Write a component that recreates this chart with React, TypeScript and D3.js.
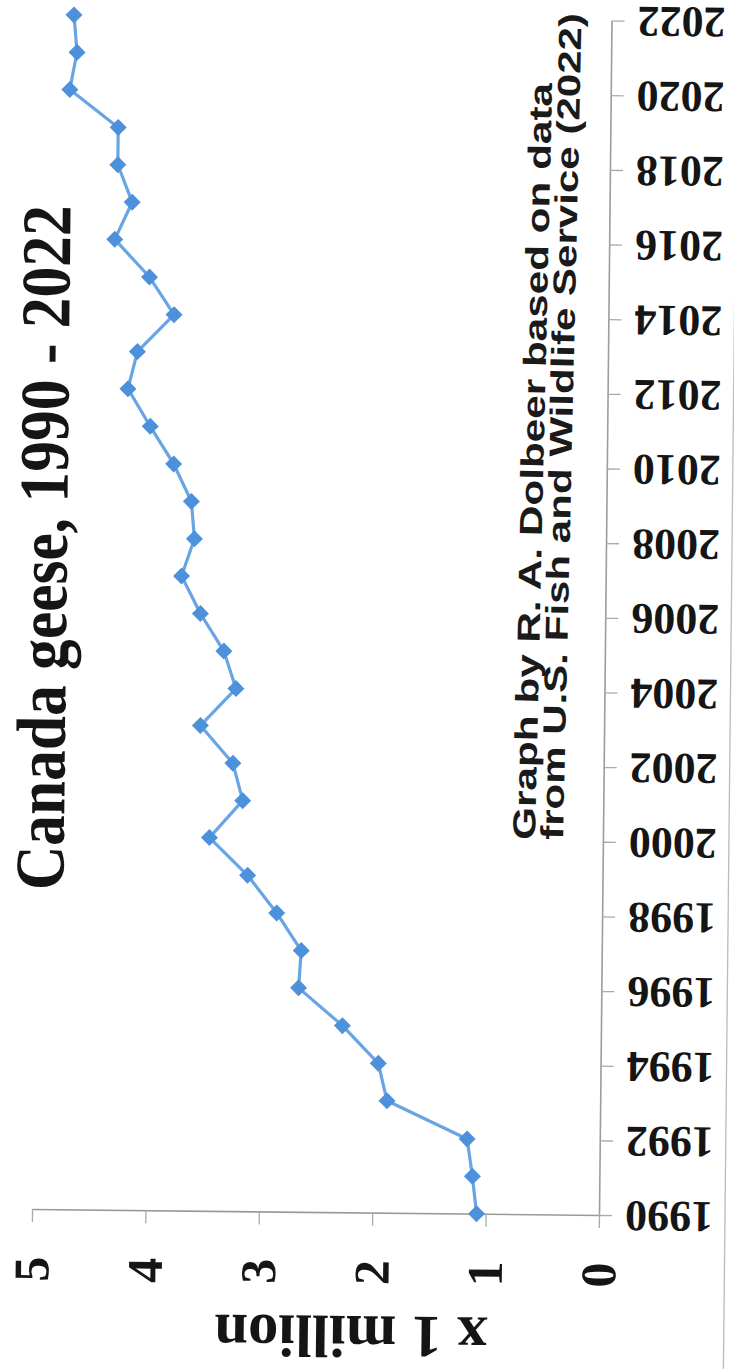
import * as d3 from 'd3'
import { useEffect, useRef } from 'react'

// Canada geese population (millions), 1990 - 2022
const years: number[] = d3.range(1990, 2023)
const geese: number[] = [
  1.08, 1.12, 1.17, 1.88, 1.96, 2.28, 2.67, 2.65, 2.87, 3.13,
  3.47, 3.18, 3.27, 3.56, 3.25, 3.36, 3.57, 3.74, 3.63, 3.66,
  3.82, 4.03, 4.23, 4.15, 3.83, 4.05, 4.36, 4.21, 4.34, 4.34,
  4.77, 4.71, 4.74,
]
const yearTicks: number[] = d3.range(1990, 2023, 2)
const valueTicks: number[] = [0, 1, 2, 3, 4, 5]

const title = 'Canada geese, 1990 - 2022'
const creditLines = ['Graph by R. A. Dolbeer based on data', 'from U.S. Fish and Wildlife Service (2022)']
const unitLabel = 'x 1 million'

const W = 734
const H = 1369
const serif = '"Liberation Serif", "Times New Roman", serif'
const sans = '"Liberation Sans", Arial, sans-serif'

export default function App(){
  const yearAxisRef = useRef<SVGGElement|null>(null)
  const valueAxisRef = useRef<SVGGElement|null>(null)

  // the page is a scan of a chart turned on its side: years run up, values run left
  const origin = { x: 599, y: 1215 }
  const yScale = d3.scaleLinear().domain([1990, 2022]).range([origin.y, 20.5])
  const xScale = d3.scaleLinear().domain([0, 5]).range([origin.x, 32])

  const points = years.map((yr, i) => ({ year: yr, value: geese[i] }))
  const line = d3.line<{ year: number, value: number }>()
    .x(d => xScale(d.value))
    .y(d => yScale(d.year))

  useEffect(() => {
    const ya = d3.select(yearAxisRef.current)
    ya.selectAll('*').remove()
    ya.call(d3.axisRight(yScale).tickValues(yearTicks).tickSize(13).tickSizeOuter(0).tickFormat(() => ''))
    ya.select('.domain').attr('stroke', '#a39a9a').attr('stroke-width', 1.6)
    ya.selectAll('.tick line').attr('stroke', '#aaa').attr('stroke-width', 1.3)

    const va = d3.select(valueAxisRef.current)
    va.selectAll('*').remove()
    va.call(d3.axisBottom(xScale).tickValues(valueTicks).tickSize(13).tickSizeOuter(0).tickFormat(() => ''))
    va.select('.domain').attr('stroke', '#999').attr('stroke-width', 1.6)
    va.selectAll('.tick line').attr('stroke', '#aaa').attr('stroke-width', 1.3)
  }, [])

  const diamond = 'M0,-8.5L8.5,0L0,8.5L-8.5,0Z'
  // credit block sits a little skewed on the scan
  const creditStart = [{ x: 531, y: 840.7 }, { x: 559, y: 840.5 }]
  const creditLen = [757, 827]

  return (
    <svg width={W} height={H} style={{ position: 'absolute', left: 0, top: 0, background: '#fff' }}>
      <rect x={0} y={0} width={W} height={H} fill="#fff" />
      <g transform={`rotate(0.6, ${origin.x}, ${origin.y})`}>
        <line x1={725} x2={725} y1={-20} y2={H + 20} stroke="#bbb" strokeWidth={1.3} />

        <text transform="translate(60, 553.5) rotate(-90)" textAnchor="middle"
          fontFamily={serif} fontWeight="bold" fontSize={70} fill="#151515"
          textLength={685} lengthAdjust="spacingAndGlyphs">{title}</text>

        {creditLines.map((t, i) => (
          <text key={t} transform={`translate(${creditStart[i].x}, ${creditStart[i].y}) rotate(-89.3)`}
            fontFamily={sans} fontWeight="bold" fontSize={32} fill="#1a1a1a"
            textLength={creditLen[i]} lengthAdjust="spacingAndGlyphs">{t}</text>
        ))}

        <g ref={yearAxisRef} transform={`translate(${origin.x},0)`} />
        <g ref={valueAxisRef} transform={`translate(0,${origin.y})`} />

        {yearTicks.map(yr => (
          <text key={yr} transform={`translate(669, ${yScale(yr) + 1}) rotate(180)`} textAnchor="middle" dy="0.34em"
            fontFamily={serif} fontWeight="bold" fontSize={44} fill="#151515"
            textLength={88} lengthAdjust="spacingAndGlyphs">{yr}</text>
        ))}

        {valueTicks.map(v => (
          <text key={v} transform={`translate(${xScale(v)}, 1275) rotate(-90)`} textAnchor="middle" dy="0.34em"
            fontFamily={serif} fontWeight="bold" fontSize={50} fill="#151515">{v}</text>
        ))}

        <text transform="translate(352, 1318.6) rotate(180)" textAnchor="middle"
          fontFamily={serif} fontWeight="bold" fontSize={60} fill="#151515"
          textLength={273} lengthAdjust="spacingAndGlyphs">{unitLabel}</text>

        <path d={line(points) ?? ''} fill="none" stroke="#69a5e3" strokeWidth={3.2} strokeLinejoin="round" />
        {points.map(p => (
          <path key={p.year} d={diamond} transform={`translate(${xScale(p.value)}, ${yScale(p.year)})`} fill="#4d90dc" />
        ))}
      </g>
    </svg>
  )
}
